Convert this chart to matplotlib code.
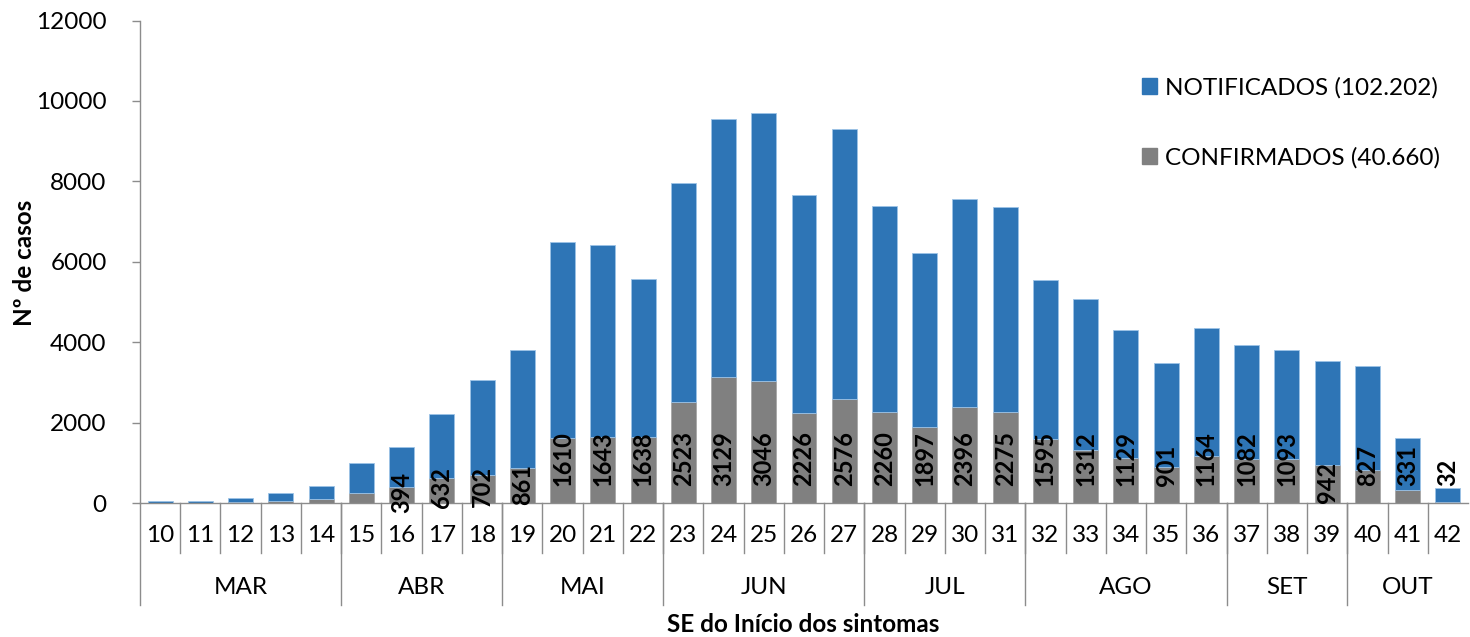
import matplotlib.pyplot as plt
from matplotlib.transforms import blended_transform_factory
import numpy as np

# semanas epidemiologicas e meses
semanas = [str(s) for s in range(10, 43)]
meses = ["MAR", "ABR", "MAI", "JUN", "JUL", "AGO", "SET", "OUT"]
semanas_por_mes = [5, 4, 4, 5, 4, 5, 3, 3]

confirmados = [4, 10, 25, 55, 100, 250, 394, 632, 702, 861, 1610, 1643, 1638,
               2523, 3129, 3046, 2226, 2576, 2260, 1897, 2396, 2275, 1595, 1312,
               1129, 901, 1164, 1082, 1093, 942, 827, 331, 32]
notificados = [36, 50, 95, 185, 325, 750, 991, 1578, 2348, 2939, 4890, 4777, 3922,
               5437, 6411, 6644, 5444, 6724, 5130, 4323, 5164, 5085, 3955, 3763,
               3171, 2579, 3186, 2848, 2707, 2598, 2583, 1279, 333]
# semanas com rotulo abaixo da posicao padrao
rotulos_baixos = {"16": -260, "17": -120, "18": -100, "19": -50, "39": 0}

plt.rcParams['font.family'] = ['Lato', 'DejaVu Sans']

fig = plt.figure(figsize=(14.7, 6.37), dpi=100)
ax = fig.add_axes([140 / 1470, 1 - 503 / 637, 1328 / 1470, 482.5 / 637])

x = np.arange(len(semanas))
conf = np.array(confirmados)
ax.bar(x, conf, width=0.62, color='#808080', edgecolor='#A6A6A6', linewidth=0.6, zorder=2)
ax.bar(x, notificados, width=0.62, bottom=conf, color='#2E75B6',
       edgecolor='#9DC3E6', linewidth=0.6, zorder=2)

for i, s in enumerate(semanas):
    if i < 6:
        continue
    y = rotulos_baixos.get(s, 420)
    ax.text(i, y, str(confirmados[i]), rotation=90, ha='center', va='bottom',
            fontsize=17, fontweight='bold', color='black', zorder=5, clip_on=False)

ax.set_xlim(-0.5, len(semanas) - 0.5)
ax.set_ylim(0, 12000)
ax.set_yticks(range(0, 12001, 2000))
ax.tick_params(axis='y', length=6, width=1, color='#8C8C8C', pad=18, labelsize=17.5)
ax.set_xticks([])

for side in ['top', 'right']:
    ax.spines[side].set_visible(False)
for side in ['left', 'bottom']:
    ax.spines[side].set_color('#8C8C8C')
    ax.spines[side].set_linewidth(1)

trans = blended_transform_factory(ax.transData, ax.transAxes)
wk_drop = -50 / 482.5
mo_drop = -102 / 482.5

for i, s in enumerate(semanas):
    ax.text(i, -32 / 482.5, s, transform=trans, ha='center', va='center',
            fontsize=17.5, clip_on=False)
    if i > 0:
        ax.plot([i - 0.5, i - 0.5], [0, wk_drop], transform=trans, color='#8C8C8C',
                lw=1, clip_on=False)

pos = -0.5
for m, n in zip(meses, semanas_por_mes):
    ax.plot([pos, pos], [0, mo_drop], transform=trans, color='#8C8C8C',
            lw=1, clip_on=False)
    ax.text(pos + n / 2, -84 / 482.5, m, transform=trans, ha='center', va='center',
            fontsize=17.5, clip_on=False)
    pos += n

fig.text(803 / 1470, 1 - 625 / 637, "SE do Início dos sintomas", ha='center',
         va='center', fontsize=17.5, fontweight='bold')
fig.text(25 / 1470, 1 - 263 / 637, "Nº de casos", ha='center', va='center',
         rotation=90, fontsize=17.5, fontweight='bold')

h_not = plt.Rectangle((0, 0), 1, 1, color='#2E75B6')
h_conf = plt.Rectangle((0, 0), 1, 1, color='#808080')
fig.legend([h_not, h_conf], ["NOTIFICADOS (102.202)", "CONFIRMADOS (40.660)"],
           loc='upper left', bbox_to_anchor=(1142 / 1470, 1 - 77 / 637),
           frameon=False, fontsize=17.5, handlelength=0.6, handleheight=0.6,
           handletextpad=0.35, labelspacing=2.0, borderpad=0, borderaxespad=0)

fig.savefig("out.png", dpi=100)
